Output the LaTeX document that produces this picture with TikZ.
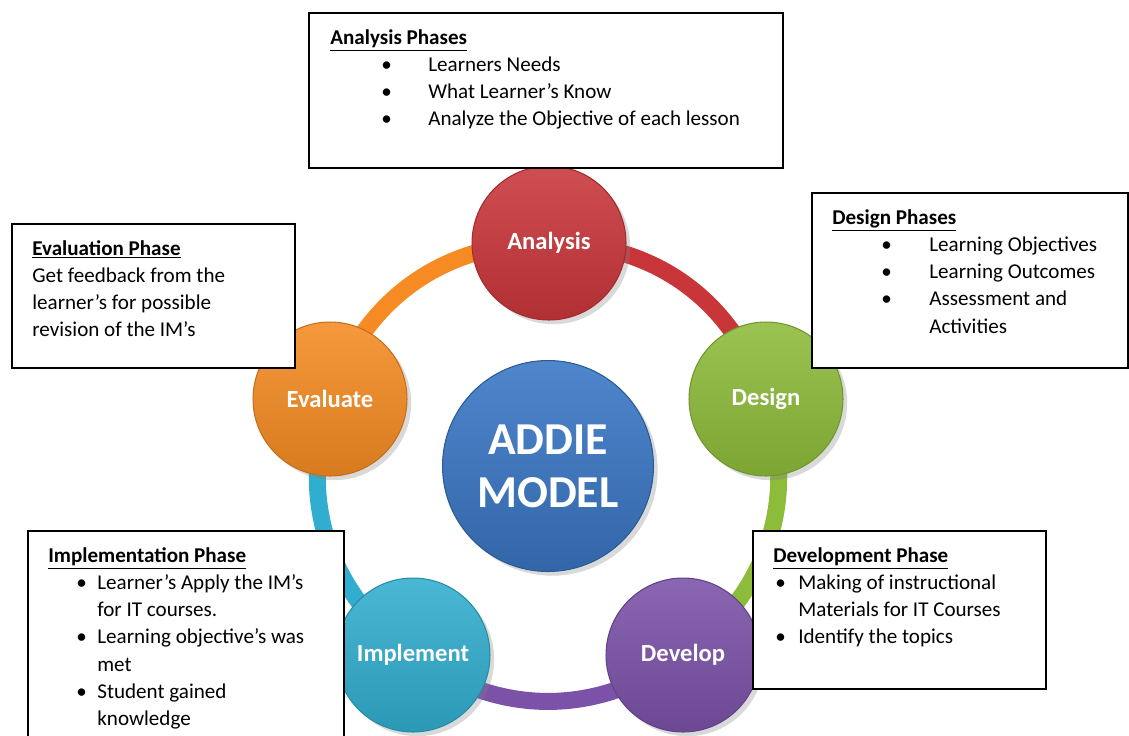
\documentclass[tikz,border=0pt]{standalone}
\usepackage{fontspec}
\setmainfont{Carlito}
\usepackage{tikz}
\usetikzlibrary{positioning,shadows,backgrounds}
\definecolor{anacolor}{RGB}{201,54,58}
\definecolor{descolor}{RGB}{141,187,58}
\definecolor{devcolor}{RGB}{123,82,168}
\definecolor{impcolor}{RGB}{49,174,207}
\definecolor{evacolor}{RGB}{245,139,34}
\definecolor{addiecolor}{RGB}{59,120,198}
\newcommand{\ringwidth}{0.34cm}
\newcommand{\phasetitle}[1]{\underline{\textbf{#1}}}
\newcommand{\phaseitem}[2]{\makebox[#2][l]{\hspace*{#1}\textbullet}}

\begin{document}
\begin{tikzpicture}[x=0.02cm, y=-0.02cm,
  phase/.style={circle, minimum size=3.08cm, inner sep=0pt, text=white,
    font=\fontsize{14}{16}\selectfont\bfseries,
    top color=#1!88!white, bottom color=#1!88!black, draw=#1!80!black,
    line width=0.6pt, drop shadow={opacity=0.3}},
  addie/.style={circle, minimum size=4.22cm, inner sep=0pt, text=white, align=center,
    font=\fontsize{26}{30}\selectfont\bfseries,
    top color=addiecolor!90!white, bottom color=addiecolor!85!black, draw=addiecolor!75!black,
    line width=0.6pt, drop shadow={opacity=0.3}},
  ring/.style={line width=\ringwidth, draw=#1},
  phasebox/.style={draw, fill=white, line width=1pt, anchor=north west, inner sep=0pt},
  phasetext/.style={anchor=north west, inner sep=0pt, align=left,
    font=\fontsize{12}{15.5}\selectfont}]
\useasboundingbox (0,0) rectangle (1129,735);
\clip (0,0) rectangle (1129,735);

% the five phases round the model
\node[addie] (addie) at (548,466) {ADDIE\\MODEL};
\node[phase=anacolor] (ana) at (549,243) {Analysis};
\node[phase=descolor] (des) at (766,399) {Design};
\node[phase=devcolor] (dev) at (683,655) {Develop};
\node[phase=impcolor] (imp) at (413,655) {Implement};
\node[phase=evacolor] (eva) at (330,399) {Evaluate};

% ring
\begin{scope}[on background layer]
\draw[ring=anacolor] (ana.center) to[bend left=36] (des.center);
\draw[ring=descolor] (des.center) to[bend left=36] (dev.center);
\draw[ring=devcolor] (dev.center) to[bend left=36] (imp.center);
\draw[ring=impcolor] (imp.center) to[bend left=36] (eva.center);
\draw[ring=evacolor] (eva.center) to[bend left=36] (ana.center);
\end{scope}

% Analysis
\node[phasebox, minimum width=9.48cm, minimum height=3.1cm] (anabox) at (308,12) {};
\node[phasetext] (anatext) at ([shift={(22,17)}]anabox.north west) {\phasetitle{Analysis Phases}\\
\phaseitem{1.02cm}{1.96cm}Learners Needs\\
\phaseitem{1.02cm}{1.96cm}What Learner’s Know\\
\phaseitem{1.02cm}{1.96cm}Analyze the Objective of each lesson};

% Design
\node[phasebox, minimum width=6.32cm, minimum height=3.5cm] (desbox) at (811,192) {};
\node[phasetext] (destext) at ([shift={(21,17)}]desbox.north west) {\phasetitle{Design Phases}\\
\phaseitem{0.98cm}{1.94cm}Learning Objectives\\
\phaseitem{0.98cm}{1.94cm}Learning Outcomes\\
\phaseitem{0.98cm}{1.94cm}Assessment and\\
\hspace*{1.94cm}Activities};

% Evaluation
\node[phasebox, minimum width=5.66cm, minimum height=2.88cm] (evabox) at (11,223) {};
\node[phasetext] (evatext) at ([shift={(21,17)}]evabox.north west) {\phasetitle{Evaluation Phase}\\
Get feedback from the\\
learner’s for possible\\
revision of the IM’s};

% Implementation
\node[phasebox, minimum width=6.32cm, minimum height=4.2cm] (impbox) at (27,530) {};
\node[phasetext] (imptext) at ([shift={(21,17)}]impbox.north west) {\phasetitle{Implementation Phase}\\
\phaseitem{0.56cm}{0.98cm}Learner’s Apply the IM’s\\
\hspace*{0.98cm}for IT courses.\\
\phaseitem{0.56cm}{0.98cm}Learning objective’s was\\
\hspace*{0.98cm}met\\
\phaseitem{0.56cm}{0.98cm}Student gained\\
\hspace*{0.98cm}knowledge};

% Development
\node[phasebox, minimum width=5.86cm, minimum height=3.16cm] (devbox) at (752,530) {};
\node[phasetext] (devtext) at ([shift={(21,17)}]devbox.north west) {\phasetitle{Development Phase}\\
\phaseitem{0.04cm}{0.5cm}Making of instructional\\
\hspace*{0.5cm}Materials for IT Courses\\
\phaseitem{0.04cm}{0.5cm}Identify the topics};
\end{tikzpicture}
\end{document}
